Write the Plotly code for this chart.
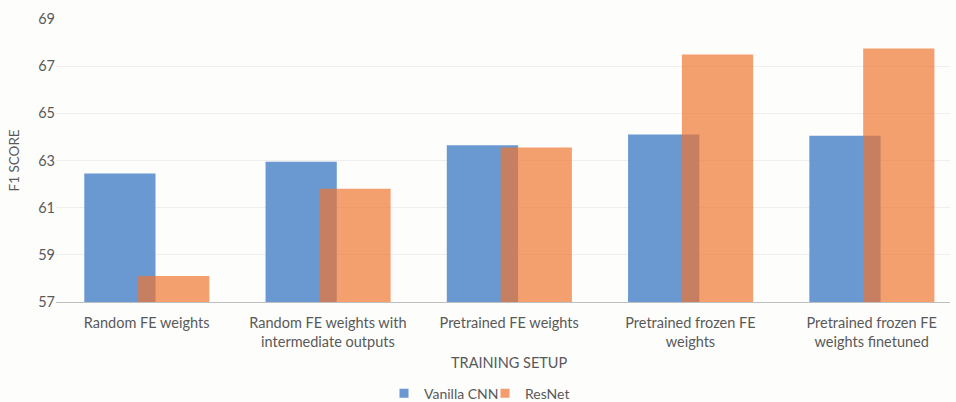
import plotly.graph_objects as go

# F1 scores per training setup
categories = [
    "Random FE weights",
    "Random FE weights with<br>intermediate outputs",
    "Pretrained FE weights",
    "Pretrained frozen FE<br>weights",
    "Pretrained frozen FE<br>weights finetuned",
]
vanilla_cnn = [62.45, 62.95, 63.65, 64.1, 64.05]
resnet = [58.1, 61.8, 63.55, 67.5, 67.75]
y_ticks = [57, 59, 61, 63, 65, 67, 69]

FONT = "Lato"
TEXT = "#595959"
BG = "#FDFDFC"
BLUE = "#6A98D0"
ORANGE = "rgba(238,118,50,0.7)"

fig = go.Figure()
fig.add_trace(go.Bar(
    x=categories, y=vanilla_cnn, name="Vanilla CNN", showlegend=False,
    marker=dict(color=BLUE, line=dict(width=0)),
    width=0.393, offset=-0.344,
))
fig.add_trace(go.Bar(
    x=categories, y=resnet, name="ResNet", showlegend=False,
    marker=dict(color=ORANGE, line=dict(width=0)),
    width=0.393, offset=-0.047,
))

# square legend keys, one legend box per series so each can be placed
for name, color, lg in [("Vanilla CNN", BLUE, "legend"), ("ResNet", "#F39D6E", "legend2")]:
    fig.add_trace(go.Scatter(
        x=[None], y=[None], mode="markers", name=name, legend=lg,
        marker=dict(symbol="square", size=9, color=color),
    ))

legend_style = dict(
    orientation="h", xref="container", yref="container",
    xanchor="left", y=0.021, yanchor="middle",
    font=dict(family=FONT, size=14, color=TEXT),
    itemwidth=30, bgcolor="rgba(0,0,0,0)",
)

fig.update_layout(
    width=956, height=402,
    margin=dict(l=56, r=6, t=19, b=100, autoexpand=False),
    paper_bgcolor=BG, plot_bgcolor=BG,
    barmode="overlay",
    font=dict(family=FONT, size=14.5, color=TEXT),
    showlegend=True,
    legend=dict(legend_style, x=384 / 956),
    legend2=dict(legend_style, x=485 / 956),
    xaxis=dict(
        type="category", range=[-0.5, 4.432], automargin=False,
        showgrid=False, showline=True, linecolor="#BFBFBF", linewidth=1,
        ticks="", ticklabelstandoff=8,
        tickfont=dict(family=FONT, size=14.5, color=TEXT),
    ),
    yaxis=dict(
        range=[57, 69], tickvals=y_ticks, automargin=False,
        showgrid=True, gridcolor="#EEEEEE", gridwidth=1,
        zeroline=False, showline=False, ticks="",
        ticksuffix="\u00a0\u00a0\u00a0",
        tickfont=dict(family=FONT, size=14.5, color=TEXT),
    ),
    annotations=[
        dict(text="TRAINING SETUP", xref="paper", yref="paper",
             x=0.507, y=-0.2155, xanchor="center", yanchor="middle",
             showarrow=False, font=dict(family=FONT, size=14.5, color=TEXT)),
        dict(text="F1 SCORE", xref="paper", yref="paper",
             x=-0.047, y=0.5, xanchor="center", yanchor="middle", textangle=-90,
             showarrow=False, font=dict(family=FONT, size=13.5, color=TEXT)),
    ],
)

fig.write_html("out.html")
